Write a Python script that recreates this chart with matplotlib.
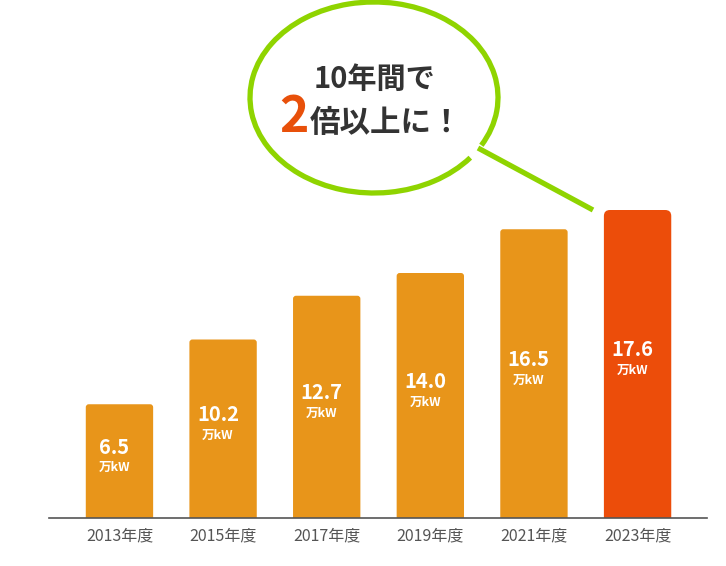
import matplotlib
matplotlib.use("Agg")
from matplotlib import pyplot as plt
from matplotlib.patches import Arc, FancyBboxPatch
import numpy as np

plt.rcParams['font.family'] = ['Noto Sans CJK JP', 'DejaVu Sans']

# データ
years = ["2013年度", "2015年度", "2017年度", "2019年度", "2021年度", "2023年度"]
values = [6.5, 10.2, 12.7, 14.0, 16.5, 17.6]
unit = "万kW"
callout_line1 = "10年間で"
callout_big = "2"
callout_rest = "倍以上に！"

orange = "#E8951A"
red = "#EC4D0A"
green = "#8FD400"
colors = [orange] * (len(values) - 1) + [red]
radius_px = [3] * (len(values) - 1) + [6]

W, H = 726, 566
fig = plt.figure(figsize=(W / 100, H / 100), dpi=100)

# 棒グラフ本体 (基線 y=518px)
ax = fig.add_axes([49 / W, (H - 518) / H, 658 / W, 518 / H])
x = np.arange(len(values))
bars = ax.bar(x, values, width=0.65, color=colors, zorder=2)
ax.set_xlim(-0.68, 5.67)
ax.set_ylim(0, 29.6)

# 角丸にする (上側のみ見える、下側は軸の外に出して隠す)
px_x = 658 / (5.67 + 0.68)
px_y = 518 / 29.6
for b, r in zip(bars, radius_px):
    b.set_visible(False)
    rx = r / px_x
    fb = FancyBboxPatch((b.get_x(), -1), b.get_width(), b.get_height() + 1,
                        boxstyle=f"round,pad=0,rounding_size={rx}",
                        mutation_aspect=px_x / px_y,
                        facecolor=b.get_facecolor(), edgecolor="none",
                        zorder=2, clip_on=True)
    ax.add_patch(fb)

for s in ["top", "right", "left"]:
    ax.spines[s].set_visible(False)
ax.spines["bottom"].set_color("#555555")
ax.spines["bottom"].set_linewidth(1.2)
ax.spines["bottom"].set_zorder(3)
ax.set_yticks([])
ax.set_xticks(x)
ax.set_xticklabels(years, fontsize=11.5, color="#555555")
ax.tick_params(axis="x", length=0, pad=7)

for xi, v in zip(x, values):
    ax.text(xi - 0.05, v / 2 + 0.8, f"{v:.1f}", ha="center", va="center",
            color="white", fontsize=14.5, fontweight="bold")
    ax.text(xi - 0.05, v / 2 - 0.38, unit, ha="center", va="center",
            color="white", fontsize=9, fontweight="bold")

# 吹き出し (ピクセル座標のオーバーレイ)
ov = fig.add_axes([0, 0, 1, 1], facecolor="none")
ov.set_xlim(0, W)
ov.set_ylim(H, 0)
ov.axis("off")
ov.add_patch(Arc((374, 97.5), 248, 191, theta1=32, theta2=384,
                 color=green, lw=3.8))
ov.plot([478, 593], [148, 210], color=green, lw=3.8, solid_capstyle="butt")

ov.text(375, 88, callout_line1, ha="center", va="baseline",
        fontsize=21, fontweight="bold", color="#333333")
ov.text(309, 132, callout_big, ha="right", va="baseline",
        fontsize=36, fontweight="bold", color="#E8500A")
ov.text(310, 132, callout_rest, ha="left", va="baseline",
        fontsize=22, fontweight="bold", color="#333333")

fig.savefig("out.png", dpi=100)
